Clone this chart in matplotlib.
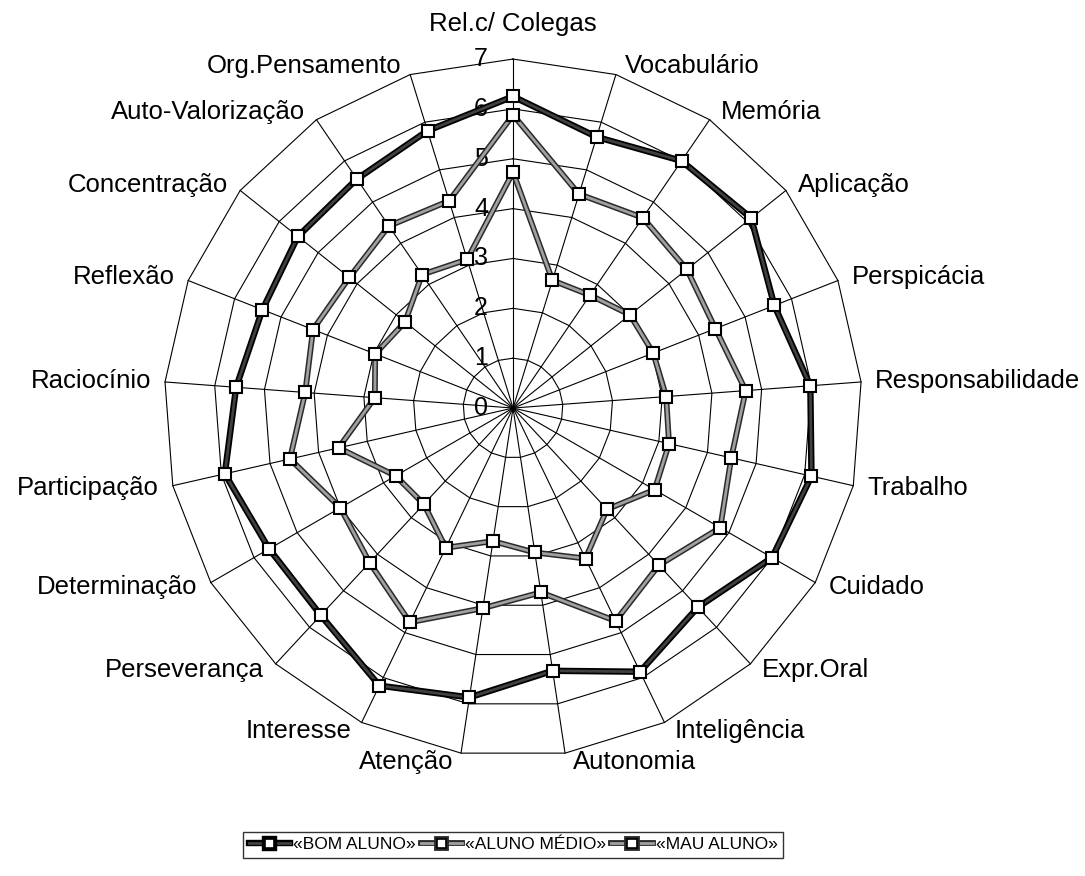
import numpy as np
import matplotlib.pyplot as plt
import matplotlib.patheffects as pe
from matplotlib.lines import Line2D

plt.rcParams['font.family'] = ['Liberation Sans', 'DejaVu Sans']

categorias = ['Rel.c/ Colegas', 'Vocabulário', 'Memória', 'Aplicação', 'Perspicácia',
              'Responsabilidade', 'Trabalho', 'Cuidado', 'Expr.Oral', 'Inteligência',
              'Autonomia', 'Atenção', 'Interesse', 'Perseverança', 'Determinação',
              'Participação', 'Raciocínio', 'Reflexão', 'Concentração',
              'Auto-Valorização', 'Org.Pensamento']
bom_aluno = [6.25, 5.69, 6.00, 6.11, 5.63, 5.98, 6.14, 6.00, 5.45, 5.87, 5.33,
             5.87, 6.18, 5.67, 5.65, 5.93, 5.57, 5.40, 5.52, 5.56, 5.82]
aluno_medio = [5.88, 4.49, 4.62, 4.46, 4.36, 4.68, 4.49, 4.80, 4.30, 4.74, 3.74,
               4.06, 4.77, 4.23, 4.00, 4.59, 4.18, 4.31, 4.20, 4.42, 4.35]
mau_aluno = [4.73, 2.68, 2.74, 3.00, 3.02, 3.08, 3.21, 3.28, 2.77, 3.35, 2.93,
             2.70, 3.11, 2.63, 2.72, 3.59, 2.78, 2.97, 2.77, 3.24, 3.12]
nomes = ['«BOM ALUNO»', '«ALUNO MÉDIO»', '«MAU ALUNO»']
niveis = [0, 1, 2, 3, 4, 5, 6, 7]

n = len(categorias)
ang = np.linspace(0, 2 * np.pi, n, endpoint=False)
ang_f = np.append(ang, ang[0])

fig = plt.figure(figsize=(10.85, 8.76), dpi=100)
ax = fig.add_axes([0.1512, 0.1358, 0.6433, 0.7968], projection='polar')
ax.set_theta_zero_location('N')
ax.set_theta_direction(-1)
ax.set_ylim(0, niveis[-1])
ax.axis('off')

# polygon grid + spokes
for k in niveis[1:]:
    ax.plot(ang_f, [k] * (n + 1), color='black', lw=0.8, clip_on=False, zorder=1)
for a in ang:
    ax.plot([a, a], [0, niveis[-1]], color='black', lw=0.8, clip_on=False, zorder=1)

for k in niveis:
    ax.annotate(str(k), xy=(0, k), xytext=(-25, 0), textcoords='offset pixels',
                ha='right', va='center', fontsize=18)

# category labels around the outer ring
for a, nome in zip(ang, categorias):
    s, c = np.sin(a), np.cos(a)
    if abs(s) < 0.05 and c > 0:
        ax.annotate(nome, xy=(a, niveis[-1]), xytext=(0, 23), textcoords='offset pixels',
                    ha='center', va='bottom', fontsize=18.5)
        continue
    ha = 'left' if s > 0 else 'right'
    dx = (7 + 7 * abs(s)) * np.sign(s)
    ax.annotate(nome, xy=(a, niveis[-1]), xytext=(dx, 9 * c), textcoords='offset pixels',
                ha=ha, va='center', fontsize=18.5)

estilos = [('#404040', 'black', 4.6), ('#a0a0a0', '#2a2a2a', 4.2), ('#a0a0a0', '#2a2a2a', 4.2)]
handles = []
for vals, nome, (cor, borda, lw) in zip([bom_aluno, aluno_medio, mau_aluno], nomes, estilos):
    v = np.append(vals, vals[0])
    efeito = [pe.Stroke(linewidth=lw, foreground=borda), pe.Normal()]
    ax.plot(ang_f, v, color=cor, lw=2, path_effects=efeito, zorder=3, clip_on=False)
    ax.plot(ang, vals, ls='none', marker='s', ms=8, mfc='white', mec='black', mew=1.5,
            zorder=4, clip_on=False)
    handles.append(Line2D([], [], color=cor, lw=2, path_effects=efeito, marker='s', ms=7,
                          mfc='white', mec='black', mew=1.2))

leg = fig.legend(handles, nomes, loc='lower center', bbox_to_anchor=(513 / 1085, 0.011),
                 ncol=3, fontsize=12.5, frameon=True, fancybox=False, edgecolor='black',
                 handlelength=2.4, handletextpad=0.15, columnspacing=0.3, borderpad=0.3)
leg.get_frame().set_linewidth(1.0)

fig.savefig('out.png', dpi=100, facecolor='white')
